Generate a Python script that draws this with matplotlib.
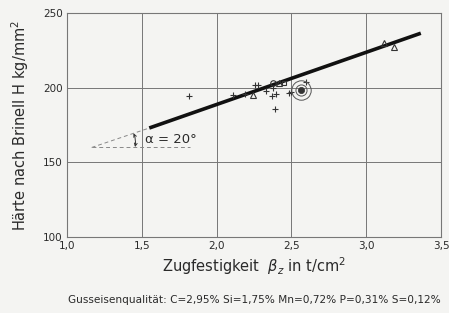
import matplotlib
matplotlib.use("Agg")
import matplotlib.pyplot as plt

plt.rcParams['font.family'] = ['DejaVu Sans']

# data
plus_x = [1.815, 2.109, 2.187, 2.26, 2.28, 2.327, 2.375, 2.372, 2.398, 2.393, 2.487, 2.498, 2.598]
plus_y = [194.5, 195.1, 195.8, 201.8, 201.8, 197.4, 199.6, 194.7, 195.6, 185.6, 196.3, 197.3, 204.0]
tri_x = [2.242, 2.415, 3.12, 3.187]
tri_y = [195.0, 202.9, 230.0, 227.3]
circ_x = [2.38]
circ_y = [203.3]
sq_x = [2.453]
sq_y = [203.3]
ring_x = [2.565]
ring_y = [198.5]
line_x = [1.55, 3.365]
line_y = [173.0, 236.3]
ext_x = [1.165, 1.55]
ext_y = [160.0, 173.0]
hor_x = [1.165, 1.82]
hor_y = [160.0, 160.0]
xticks = [1.0, 1.5, 2.0, 2.5, 3.0, 3.5]
xticklabels = ['1,0', '1,5', '2,0', '2,5', '3,0', '3,5']
yticks = [100, 150, 200, 250]

bg = '#f4f4f2'
ink = '#2a2a2a'
fig = plt.figure(figsize=(4.49, 3.13), dpi=100, facecolor=bg)
ax = fig.add_axes([0.1492, 0.2418, 0.9822 - 0.1492, 0.9594 - 0.2418], facecolor=bg)
ax.set_xlim(1.0, 3.5)
ax.set_ylim(100, 250)
for s in ax.spines.values():
    s.set_color('#777777')
    s.set_linewidth(0.8)
ax.set_xticks(xticks)
ax.set_xticklabels(xticklabels, fontsize=7.5, color=ink)
ax.set_yticks(yticks)
ax.set_yticklabels([str(v) for v in yticks], fontsize=7.5, color=ink)
ax.tick_params(length=0, pad=3)
ax.grid(True, color='#777777', linewidth=0.7)
ax.set_axisbelow(True)

ax.plot(line_x, line_y, color='#111111', lw=2.6, solid_capstyle='butt', zorder=3)
ax.plot(ext_x, ext_y, color='#888888', lw=0.7, ls=(0, (4, 3)), zorder=2)
ax.plot(hor_x, hor_y, color='#888888', lw=0.7, ls=(0, (4, 3)), zorder=2)
ax.annotate('', xy=(1.455, 160.3), xytext=(1.445, 169.5),
            arrowprops=dict(arrowstyle='<->', color='#333333', lw=0.7,
                            connectionstyle='arc3,rad=-0.15', shrinkA=0, shrinkB=0,
                            mutation_scale=5))
ax.text(1.52, 165, 'α = 20°', fontsize=9.5, color=ink, va='center', ha='left')

ax.plot(plus_x, plus_y, ls='none', marker='+', ms=4, mew=0.8, color='#333333', zorder=4)
ax.plot(tri_x, tri_y, ls='none', marker='^', ms=5, mew=0.8, mfc='none', mec='#333333', zorder=4)
ax.plot(circ_x, circ_y, ls='none', marker='o', ms=4, mew=0.8, mfc='none', mec='#333333', zorder=4)
ax.plot(sq_x, sq_y, ls='none', marker='s', ms=3.5, mew=0.8, mfc='none', mec='#333333', zorder=4)
ax.plot(ring_x, ring_y, ls='none', marker='o', ms=14, mew=0.7, mfc='none', mec='#555555', zorder=4)
ax.plot(ring_x, ring_y, ls='none', marker='o', ms=8, mew=0.7, mfc='none', mec='#555555', zorder=4)
ax.plot(ring_x, ring_y, ls='none', marker='o', ms=4.5, mew=0.5, color='#333333', zorder=5)

ax.set_xlabel('Zugfestigkeit  $\\beta_z$ in t/cm$^2$', fontsize=10.5, color=ink, labelpad=3)
ax.set_ylabel('Härte nach Brinell H kg/mm$^2$', fontsize=10.5, color=ink, labelpad=9)
fig.text((67 + 441) / 2 / 449, 1 - 300 / 313,
         'Gusseisenqualität: C=2,95% Si=1,75% Mn=0,72% P=0,31% S=0,12%',
         fontsize=7.6, color=ink, ha='center', va='center')
fig.savefig('out.png', dpi=100, facecolor=bg)
